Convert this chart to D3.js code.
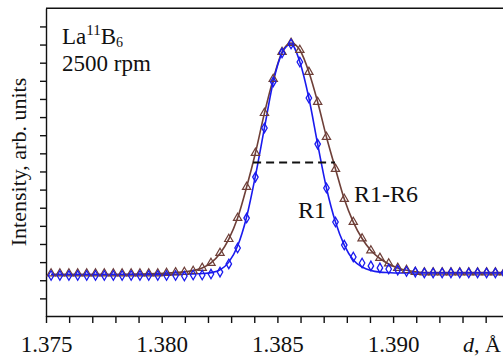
<!DOCTYPE html>
<meta charset="utf-8">
<script src="https://d3js.org/d3.v7.min.js"></script>
<style>
  body { margin: 0; background: #fff; }
  svg text { font-family: "Liberation Serif", "DejaVu Serif", serif; }
</style>
<div id="chart"></div>
<script>

var width = 503,
  height = 356,
  blue = "#1a1aee",
  brown = "#6e3f38";

// d-spacing of the measured points (Angstrom)
var dValues = [1.37522, 1.37560, 1.37599, 1.37637, 1.37676, 1.37714, 1.37752, 1.37791, 1.37829, 1.37868,
  1.37906, 1.37944, 1.37983, 1.38021, 1.38060, 1.38098, 1.38136, 1.38175, 1.38213, 1.38252,
  1.38290, 1.38328, 1.38367, 1.38405, 1.38444, 1.38482, 1.38520, 1.38559, 1.38597, 1.38636,
  1.38674, 1.38712, 1.38751, 1.38789, 1.38828, 1.38866, 1.38904, 1.38943, 1.38981, 1.39020,
  1.39058, 1.39096, 1.39135, 1.39173, 1.39212, 1.39250, 1.39288, 1.39327, 1.39365, 1.39404,
  1.39442, 1.39480];

// R1 detector (diamonds)
var r1Points = [2.26, 2.26, 2.26, 2.26, 2.26, 2.26, 2.26, 2.26, 2.26, 2.26,
  2.26, 2.26, 2.26, 2.26, 2.26, 2.23, 2.29, 2.29, 2.34, 2.45,
  2.90, 3.78, 5.43, 7.69, 10.40, 12.94, 14.53, 15.03, 14.04, 12.05,
  9.51, 7.09, 5.21, 3.94, 3.28, 2.95, 2.79, 2.68, 2.62, 2.56,
  2.48, 2.45, 2.40, 2.40, 2.40, 2.40, 2.40, 2.40, 2.40, 2.40,
  2.40, 2.40];

// R1 fitted profile
var r1Fit = [2.31, 2.31, 2.31, 2.31, 2.31, 2.31, 2.31, 2.31, 2.31, 2.31,
  2.31, 2.31, 2.31, 2.31, 2.32, 2.33, 2.35, 2.37, 2.42, 2.57,
  3.00, 3.89, 5.49, 7.75, 10.40, 12.94, 14.53, 15.03, 14.04, 12.05,
  9.51, 7.09, 5.21, 3.94, 3.12, 2.73, 2.54, 2.45, 2.42, 2.40,
  2.40, 2.40, 2.40, 2.40, 2.40, 2.40, 2.40, 2.40, 2.40, 2.40,
  2.40, 2.40];

// R1-R6 summed (triangles)
var r16Points = [2.37, 2.37, 2.37, 2.37, 2.37, 2.37, 2.37, 2.37, 2.37, 2.37,
  2.37, 2.37, 2.37, 2.40, 2.43, 2.45, 2.51, 2.68, 2.95, 3.50,
  4.27, 5.43, 7.14, 9.02, 11.22, 13.10, 14.59, 15.09, 14.70, 13.49,
  11.83, 9.90, 8.14, 6.48, 5.21, 4.30, 3.64, 3.23, 2.92, 2.68,
  2.56, 2.45, 2.43, 2.43, 2.43, 2.43, 2.43, 2.43, 2.43, 2.43,
  2.43, 2.43];

// R1-R6 fitted profile
var r16Fit = [2.32, 2.32, 2.32, 2.32, 2.32, 2.32, 2.32, 2.32, 2.32, 2.33,
  2.34, 2.35, 2.37, 2.39, 2.42, 2.46, 2.53, 2.68, 2.96, 3.48,
  4.27, 5.43, 7.14, 9.02, 11.22, 13.10, 14.59, 15.09, 14.70, 13.49,
  11.83, 9.90, 8.14, 6.48, 5.21, 4.30, 3.64, 3.20, 2.90, 2.68,
  2.55, 2.47, 2.43, 2.42, 2.42, 2.42, 2.42, 2.42, 2.42, 2.42,
  2.42, 2.42];

var halfMax = [1.38395, 1.38749, 8.5];   // d from, d to, level

var xTicks = d3.range(1375, 1395).map(function(v){ return v / 1000 });
var xLabels = [1.375, 1.380, 1.385, 1.390];
var yTicks = d3.range(1, 17);


var svg = d3.select("#chart")
  .append("svg")
    .attr("width", width)
    .attr("height", height);

var x = d3.scaleLinear().domain([1.375, 1.395]).range([46, 508.8]);
var y = d3.scaleLinear().domain([0, 17]).range([316.5, 8.3]);

svg.append("g")
    .attr("transform", "translate(0,316)")
    .call(d3.axisBottom(x)
      .tickValues(xTicks)
      .tickSize(7)
      .tickSizeOuter(0)
      .tickPadding(13)
      .tickFormat(function(d){
        var hit = xLabels.some(function(l){ return Math.abs(l - d) < 1e-9 });
        return hit ? d3.format(".3f")(d) : "";
      }))
    .call(function(g){
      g.selectAll("path, line").attr("stroke", "#111").attr("stroke-width", 1.4);
      g.selectAll("text").attr("font-size", 23).attr("fill", "#111");
    });

svg.append("g")
    .attr("transform", "translate(46,0)")
    .call(d3.axisLeft(y)
      .tickValues(yTicks)
      .tickSize(6)
      .tickSizeOuter(0)
      .tickFormat(""))
    .call(function(g){
      g.selectAll("path, line").attr("stroke", "#111").attr("stroke-width", 1.4);
    });

svg.append("line")
    .attr("x1", 46).attr("x2", width)
    .attr("y1", y(17)).attr("y2", y(17))
    .attr("stroke", "#111")
    .attr("stroke-width", 1.4);


var line = function(values){
  return d3.line()
    .x(function(d, i){ return x(dValues[i]) })
    .y(function(d){ return y(d) })
    .curve(d3.curveMonotoneX)(values);
};

svg.append("path")
    .attr("d", line(r16Fit))
    .attr("fill", "none")
    .attr("stroke", brown)
    .attr("stroke-width", 1.6);

svg.append("path")
    .attr("d", line(r1Fit))
    .attr("fill", "none")
    .attr("stroke", blue)
    .attr("stroke-width", 1.6);

svg.selectAll("tri")
  .data(r16Points)
  .enter()
  .append("path")
    .attr("d", d3.symbol().type(d3.symbolTriangle).size(30))
    .attr("transform", function(d, i){ return "translate(" + x(dValues[i]) + "," + y(d) + ")" })
    .attr("fill", "none")
    .attr("stroke", brown)
    .attr("stroke-width", 1.2);

svg.selectAll("dia")
  .data(r1Points)
  .enter()
  .append("path")
    .attr("d", d3.symbol().type(d3.symbolDiamond).size(26))
    .attr("transform", function(d, i){ return "translate(" + x(dValues[i]) + "," + y(d) + ")" })
    .attr("fill", "none")
    .attr("stroke", blue)
    .attr("stroke-width", 1.3);

// FWHM marker
svg.append("line")
    .attr("x1", x(halfMax[0])).attr("x2", x(halfMax[1]))
    .attr("y1", y(halfMax[2])).attr("y2", y(halfMax[2]))
    .attr("stroke", "#111")
    .attr("stroke-width", 2)
    .attr("stroke-dasharray", "8,5");


// labels
svg.append("text")
    .attr("x", 298).attr("y", 218)
    .attr("font-size", 24)
    .attr("fill", "#111")
    .text("R1");

svg.append("text")
    .attr("x", 354).attr("y", 202)
    .attr("font-size", 24)
    .attr("fill", "#111")
    .text("R1-R6");

var title = svg.append("text")
    .attr("x", 62).attr("y", 44)
    .attr("font-size", 23)
    .attr("fill", "#111");
title.append("tspan").text("La");
title.append("tspan").attr("font-size", 15).attr("dy", -9).text("11");
title.append("tspan").attr("dy", 9).text("B");
title.append("tspan").attr("font-size", 14).attr("dy", 3).text("6");

svg.append("text")
    .attr("x", 62).attr("y", 71)
    .attr("font-size", 23)
    .attr("fill", "#111")
    .text("2500 rpm");

svg.append("text")
    .attr("transform", "translate(26,162) rotate(-90)")
    .attr("text-anchor", "middle")
    .attr("font-size", 22)
    .attr("fill", "#111")
    .text("Intensity, arb. units");

var xl = svg.append("text")
    .attr("x", 463).attr("y", 352)
    .attr("font-size", 22)
    .attr("fill", "#111");
xl.append("tspan").attr("font-style", "italic").text("d");
xl.append("tspan").text(", Å");

</script>
